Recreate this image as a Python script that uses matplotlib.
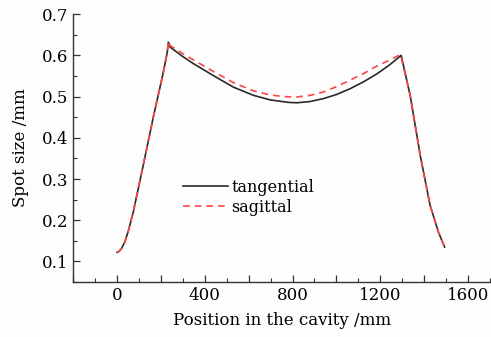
import matplotlib
matplotlib.use("Agg")
import matplotlib.pyplot as plt
from matplotlib.ticker import MultipleLocator, FuncFormatter

# values
tan_x = [0, 10, 20, 36, 52, 74, 120, 166, 211, 229, 234, 242, 300, 348, 439, 530, 622, 698,
         780, 819, 880, 940, 1000, 1062, 1124, 1184, 1240, 1295,
         1336, 1382, 1427, 1465, 1493]
tan_y = [0.122, 0.125, 0.131, 0.148, 0.175, 0.220, 0.335, 0.452, 0.559, 0.608, 0.632, 0.620, 0.597, 0.580, 0.551, 0.523, 0.503, 0.492,
         0.486, 0.485, 0.488, 0.495, 0.505, 0.519, 0.536, 0.555, 0.576, 0.600,
         0.503, 0.357, 0.236, 0.171, 0.135]

sag_x = [0, 10, 20, 36, 52, 74, 120, 166, 211, 229, 234, 242, 300, 348, 439, 530, 622, 698,
         760, 819, 880, 940, 1000, 1062, 1124, 1184, 1240, 1292,
         1336, 1382, 1427, 1465, 1493]
sag_y = [0.122, 0.125, 0.131, 0.148, 0.175, 0.220, 0.335, 0.452, 0.559, 0.608, 0.634, 0.624, 0.604, 0.589, 0.561, 0.534, 0.514, 0.504,
         0.500, 0.499, 0.503, 0.511, 0.524, 0.540, 0.556, 0.574, 0.588, 0.602,
         0.503, 0.357, 0.236, 0.171, 0.135]

plt.rcParams["font.family"] = "DejaVu Serif"
plt.rcParams["font.size"] = 12

fig = plt.figure(figsize=(4.91, 3.37), dpi=100)
fig.patch.set_facecolor("#fdfdfd")
ax = fig.add_axes([0.149, 0.163, 0.849, 0.795])
ax.set_facecolor("#fdfdfd")

ax.plot(tan_x, tan_y, color="#2a2a2a", lw=1.2, label="tangential")
ax.plot(sag_x, sag_y, color="#ff4444", lw=1.2, ls=(0, (4, 3)), label="sagittal")

ax.set_xlim(-200, 1700)
ax.set_ylim(0.05, 0.7)
ax.xaxis.set_major_locator(MultipleLocator(200))
ax.xaxis.set_minor_locator(MultipleLocator(100))
ax.xaxis.set_major_formatter(FuncFormatter(lambda v, p: f"{v:.0f}" if v % 400 == 0 and v >= 0 else ""))
ax.yaxis.set_major_locator(MultipleLocator(0.1))
ax.yaxis.set_minor_locator(MultipleLocator(0.05))
ax.yaxis.set_major_formatter(FuncFormatter(lambda v, p: f"{v:.1f}"))

ax.tick_params(which="both", direction="in", top=False, right=False, color="#333333")
ax.tick_params(which="major", length=5, width=0.9)
ax.tick_params(which="minor", length=3, width=0.8)
for s in ["top", "right"]:
    ax.spines[s].set_visible(False)
for s in ["left", "bottom"]:
    ax.spines[s].set_color("#333333")
    ax.spines[s].set_linewidth(1.0)

ax.set_xlabel("Position in the cavity /mm", labelpad=6)
ax.set_ylabel("Spot size /mm", labelpad=9)

ax.legend(loc="upper left", bbox_to_anchor=(0.23, 0.44), frameon=False,
          handlelength=2.8, handletextpad=0.2, labelspacing=0.2, fontsize=11.5)

fig.savefig("out.png", dpi=100, facecolor=fig.get_facecolor())
